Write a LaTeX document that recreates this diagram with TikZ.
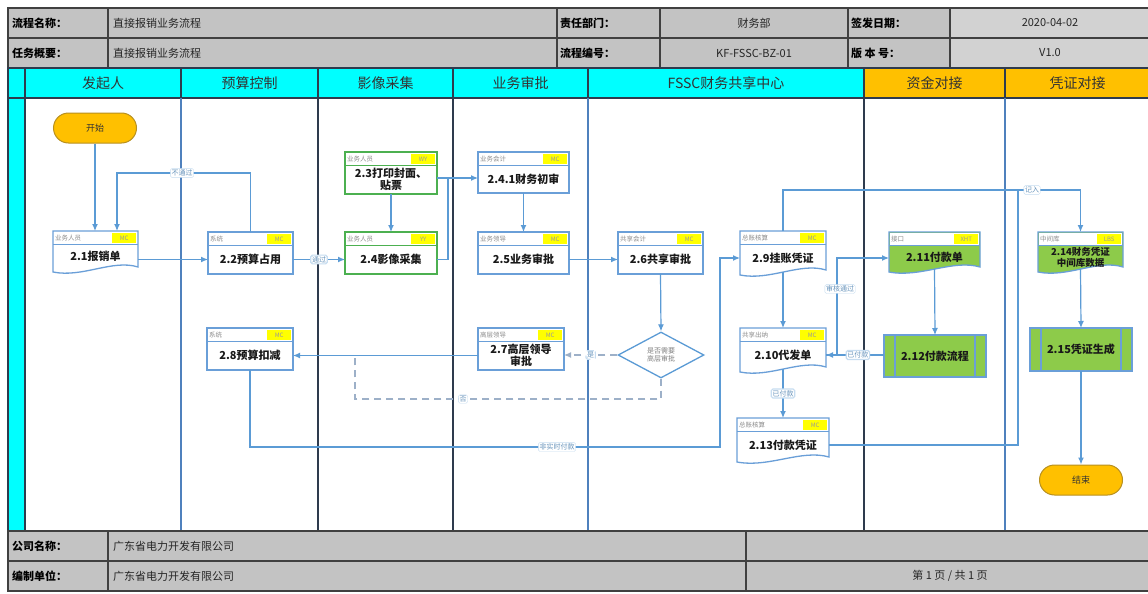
\documentclass[tikz,border=0pt]{standalone}
\usepackage{fontspec}
\setmainfont{Noto Sans CJK SC}
\usetikzlibrary{arrows.meta,shapes.geometric,calc,fit}
\definecolor{lnblue}{HTML}{5B9BD5}
\definecolor{bxblue}{HTML}{6A9FD8}
\definecolor{bxgreen}{HTML}{4CB050}
\definecolor{gfill}{HTML}{8DCB4A}
\definecolor{orng}{HTML}{FFC000}
\definecolor{ordark}{HTML}{B89020}
\definecolor{cyanh}{HTML}{00FFFF}
\definecolor{tgray}{HTML}{C3C3C3}
\definecolor{tgray2}{HTML}{D2D2D2}
\definecolor{tline}{HTML}{404040}
\definecolor{sepdark}{HTML}{2E3B4E}
\definecolor{sepblue}{HTML}{4F81BD}
\definecolor{tagy}{HTML}{FFFF00}
\definecolor{dashc}{HTML}{9DB0C8}
\newcommand\hdr[4]{%
  \fill[white] ($(#1.north west)+(0.7,0.7)$) rectangle ($(#1.north east)+(-0.7,13)$);
  \draw[#4,line width=1pt] ($(#1.north west)+(0,13)$) -- ($(#1.north east)+(0,13)$);
  \fill[tagy] ($(#1.north east)+(-26,1.6)$) rectangle ($(#1.north east)+(-1.6,11.6)$);
  \node[rolet,anchor=west] (#1-r) at ($(#1.north west)+(2,6.8)$) {#2};
  \node[tagt] (#1-g) at ($(#1.north east)+(-13.8,6.8)$) {#3};
}
\newcommand\procr[9]{%
  \node[fit={(#2,#3) (#4,#5)},inner sep=0pt,outer sep=0pt,draw=#9,line width=1.3pt,fill=white] (#1) {};
  \hdr{#1}{#6}{#7}{#9}
  \node[maint] (#1-t) at ($(#1.center)+(0,6.5)$) {#8};
}
\newcommand\docr[9]{%
  \node[fit={(#2,#3) (#4,#5)},inner sep=0pt,outer sep=0pt] (#1) {};
  \draw[draw=bxblue,line width=1.3pt,fill=#9] (#2,#3) -- (#4,#3) -- (#4,#5-5)
     .. controls ({#4-0.3*(#4-#2)},#5-13) and ({#2+0.35*(#4-#2)},#5+6) .. (#2,#5) -- cycle;
  \hdr{#1}{#6}{#7}{bxblue}
  \node[maint] (#1-t) at ($(#1.center)+(0,5)$) {#8};
}
\newcommand\ppr[6]{%
  \node[fit={(#2,#3) (#4,#5)},inner sep=0pt,outer sep=0pt,draw=bxblue,line width=1.3pt,fill=gfill] (#1) {};
  \draw[bxblue,line width=1.3pt] (#2+11,#3) -- (#2+11,#5) (#4-11,#3) -- (#4-11,#5);
  \node[maint] (#1-t) at (#1.center) {#6};
}
\begin{document}
\begin{tikzpicture}[x=1pt,y=-1pt,
  cell/.style={draw=tline,line width=1.3pt,fill=tgray,inner sep=0pt,outer sep=0pt},
  cell2/.style={cell,fill=tgray2},
  tlab/.style={font=\fontsize{11}{13}\selectfont\bfseries,text=black,inner sep=0pt},
  tval/.style={font=\fontsize{11}{13}\selectfont,text=black!85,inner sep=0pt},
  lanehd/.style={draw=sepdark,line width=1.2pt,fill=cyanh,inner sep=0pt,outer sep=0pt},
  lanet/.style={font=\fontsize{14}{16}\selectfont,text=black!80,inner sep=0pt},
  rolet/.style={font=\fontsize{6.5}{7}\selectfont,text=gray!90,inner sep=0pt},
  tagt/.style={font=\fontsize{6}{7}\selectfont,text=gray!80,inner sep=0pt},
  maint/.style={font=\fontsize{11}{12.5}\selectfont\bfseries,align=center,inner sep=0pt,text=black!90},
  term/.style={rounded corners=15pt,minimum width=83,minimum height=30,fill=orng,draw=ordark,line width=1pt,font=\fontsize{9}{10}\selectfont,text=black!80},
  conn/.style={draw=lnblue,line width=1.2pt,-{Latex[length=7pt,width=6pt]}},
  cline/.style={draw=lnblue,line width=1.2pt},
  dline/.style={draw=dashc,line width=1.2pt,dash pattern=on 7pt off 5pt},
  clab/.style={fill=white,draw=lnblue!35,rounded corners=1.5pt,inner sep=1.2pt,text=lnblue!70!gray,font=\fontsize{7}{8}\selectfont}
]
\useasboundingbox (0,0) rectangle (1148,594);
\fill[white] (0,0) rectangle (1148,594);
% ---------- header table ----------
\node[cell,fit={(8,8) (108,38)}] (h11) {};
\node[tlab,anchor=west] (h11t) at ($(h11.west)+(4,0)$) {流程名称：};
\node[cell,fit={(108,8) (557,38)}] (h12) {};
\node[tval,anchor=west] (h12t) at ($(h12.west)+(5,0)$) {直接报销业务流程};
\node[cell,fit={(557,8) (660,38)}] (h13) {};
\node[tlab,anchor=west] (h13t) at ($(h13.west)+(3,0)$) {责任部门：};
\node[cell,fit={(660,8) (848,38)}] (h14) {};
\node[tval] (h14t) at (h14.center) {财务部};
\node[cell,fit={(848,8) (950,38)}] (h15) {};
\node[tlab,anchor=west] (h15t) at ($(h15.west)+(3,0)$) {签发日期：};
\node[cell2,fit={(950,8) (1150,38)}] (h16) {};
\node[tval] (h16t) at (h16.center) {2020-04-02};
\node[cell,fit={(8,38) (108,68)}] (h21) {};
\node[tlab,anchor=west] (h21t) at ($(h21.west)+(4,0)$) {任务概要：};
\node[cell,fit={(108,38) (557,68)}] (h22) {};
\node[tval,anchor=west] (h22t) at ($(h22.west)+(5,0)$) {直接报销业务流程};
\node[cell,fit={(557,38) (660,68)}] (h23) {};
\node[tlab,anchor=west] (h23t) at ($(h23.west)+(3,0)$) {流程编号：};
\node[cell,fit={(660,38) (848,68)}] (h24) {};
\node[tval] (h24t) at (h24.center) {KF-FSSC-BZ-01};
\node[cell,fit={(848,38) (950,68)}] (h25) {};
\node[tlab,anchor=west] (h25t) at ($(h25.west)+(3,0)$) {版 本 号：};
\node[cell2,fit={(950,38) (1150,68)}] (h26) {};
\node[tval] (h26t) at (h26.center) {V1.0};
% ---------- lanes ----------
\fill[cyanh] (8,68) rectangle (25,530);
\draw[sepdark,line width=1.2pt] (8,68) -- (8,530) (25,68) -- (25,530);
\node[lanehd,fit={(8,68) (25,98)}] (lh0) {};
\node[lanehd,fit={(25,68) (181,98)}] (lh1) {};
\node[lanet] (lh1t) at (lh1.center) {发起人};
\node[lanehd,fit={(181,68) (318,98)}] (lh2) {};
\node[lanet] (lh2t) at (lh2.center) {预算控制};
\node[lanehd,fit={(318,68) (453,98)}] (lh3) {};
\node[lanet] (lh3t) at (lh3.center) {影像采集};
\node[lanehd,fit={(453,68) (588,98)}] (lh4) {};
\node[lanet] (lh4t) at (lh4.center) {业务审批};
\node[lanehd,fit={(588,68) (864,98)}] (lh5) {};
\node[lanet] (lh5t) at (lh5.center) {FSSC财务共享中心};
\node[lanehd,fill=orng,fit={(864,68) (1005,98)}] (lh6) {};
\node[lanet] (lh6t) at (lh6.center) {资金对接};
\node[lanehd,fill=orng,fit={(1005,68) (1150,98)}] (lh7) {};
\node[lanet] (lh7t) at (lh7.center) {凭证对接};
\draw[sepblue,line width=1.2pt] (181,98) -- (181,530) (588,98) -- (588,530) (1005,98) -- (1005,530);
\draw[sepdark,line width=1.4pt] (318,98) -- (318,530) (453,98) -- (453,530) (864,98) -- (864,530);
% ---------- footer ----------
\node[cell,fit={(8,531) (108,561)}] (f11) {};
\node[tlab,anchor=west] (f11t) at ($(f11.west)+(4,0)$) {公司名称：};
\node[cell,fit={(108,531) (746,561)}] (f12) {};
\node[tval,anchor=west] (f12t) at ($(f12.west)+(5,0)$) {广东省电力开发有限公司};
\node[cell,fit={(746,531) (1150,561)}] (f13) {};
\node[cell,fit={(8,561) (108,591)}] (f21) {};
\node[tlab,anchor=west] (f21t) at ($(f21.west)+(4,0)$) {编制单位：};
\node[cell,fit={(108,561) (746,591)}] (f22) {};
\node[tval,anchor=west] (f22t) at ($(f22.west)+(5,0)$) {广东省电力开发有限公司};
\node[cell,fit={(746,561) (1150,591)}] (f23) {};
\node[tval] (f23t) at (950,576) {第 1 页 / 共 1 页};
% ---------- nodes ----------
\node[term] (st) at (95,128) {开始};
\node[term] (en) at (1081,480) {结束};
\docr{n21}{53}{231}{138}{272}{业务人员}{MC}{2.1报销单}{white}
\procr{n22}{208}{232}{293}{274}{系统}{MC}{2.2预算占用}{bxblue}
\procr{n23}{345}{152}{437}{194}{业务人员}{WY}{2.3打印封面、\\贴票}{bxgreen}
\procr{n24}{345}{232}{437}{274}{业务人员}{YY}{2.4影像采集}{bxgreen}
\procr{n241}{478}{152}{569}{193}{业务会计}{MC}{2.4.1财务初审}{bxblue}
\procr{n25}{478}{232}{569}{274}{业务领导}{MC}{2.5业务审批}{bxblue}
\procr{n26}{618}{232}{703}{274}{共享会计}{MC}{2.6共享审批}{bxblue}
\procr{n27}{478}{328}{564}{370}{高层领导}{MC}{2.7高层领导\\审批}{bxblue}
\procr{n28}{207}{328}{293}{370}{系统}{MC}{2.8预算扣减}{bxblue}
\docr{n29}{740}{231}{826}{275}{总账核算}{MC}{2.9挂账凭证}{white}
\docr{n210}{740}{328}{826}{372}{共享出纳}{MC}{2.10代发单}{white}
\docr{n213}{737}{418}{829}{462}{总账核算}{MC}{2.13付款凭证}{white}
\docr{n211}{889}{232}{980}{272}{接口}{XHT}{2.11付款单}{gfill}
\node[fit={(1038,232) (1123,272)},inner sep=0pt,outer sep=0pt] (n214) {};
\draw[draw=bxblue,line width=1.3pt,fill=gfill] (1038,232) -- (1123,232) -- (1123,267)
   .. controls (1097.5,259) and (1067.75,278) .. (1038,272) -- cycle;
\hdr{n214}{中间库}{LBS}{bxblue}
\node[maint,font=\fontsize{9.5}{10.5}\selectfont\bfseries] (n214-t) at (1080.5,257.5) {2.14财务凭证\\中间库数据};
\ppr{n212}{884}{335}{986}{377}{2.12付款流程}
\ppr{n215}{1030}{328}{1132}{371}{2.15凭证生成}
\node[diamond,draw=lnblue,line width=1.3pt,fill=white,aspect=1.9,minimum width=86,minimum height=46,inner sep=0pt,
  font=\fontsize{7}{8}\selectfont,text=gray,align=center] (dia) at (661,355) {是否需要\\高层审批};
% ---------- connectors ----------
\draw[conn] (st.south) -- (st.south |- n21.north);
\coordinate (k1) at (117,173);
\draw[conn] (n22.north) |- (k1) -- (k1 |- n21.north);
\node[clab] (l1) at (182,173) {不通过};
\draw[conn] (n21.east |- n22-t) -- (n22.west |- n22-t);
\draw[conn] (n22.east |- n22-t) -- node[clab] (l2) {通过} (n24.west |- n22-t);
\draw[conn] (n23.south) -- (n24.north);
\coordinate (k2) at (448,178);
\draw[conn] (n24.east |- n24-t) -| (k2) -- (n241.west |- k2);
\draw[cline] (n23.east |- k2) -- (k2);
\draw[conn] (n241.south) -- (n241.south |- n25.north);
\draw[conn] (n25.east |- n25-t) -- (n26.west |- n25-t);
\draw[conn] (n26.south) -- (dia.north);
\draw[conn,dline] (dia.west) -- node[clab] (l3) {是} (n27.east |- dia.west);
\coordinate (k3) at (355,355);
\coordinate (k4) at (661,399);
\draw[dline] (dia.south) -- (k4) -| (k3);
\node[clab] (l4) at (463,399) {否};
\draw[conn] (n27.west |- n27-t) -- (n28.east |- n27-t);
\coordinate (k5) at (720,447);
\draw[conn] (n28.south) |- (k5) -- (k5 |- n29-t) -- (n29.west |- n29-t);
\node[clab] (l5) at (557,447) {非实时付款};
\draw[conn] ($(n29.south)+(0,-3)$) -- (n29.south |- n210.north);
\coordinate (k7) at (1018,190);
\draw[conn] (n29.north) |- (n214.north |- k7) -- (n214.north);
\node[clab] (l6) at (1032,190) {记入};
\coordinate (k6) at (837,258);
\draw[conn] (n210.east |- n210-t) -| (k6) -- (n211.west |- k6);
\node[clab] (l7) at (840,289) {审核通过};
\draw[conn] (n212.west |- n210-t) -- node[clab,pos=0.45] (l8) {已付款} (n210.east |- n210-t);
\draw[conn] ($(n211.south)+(0,-3)$) -- (n212.north);
\draw[conn] ($(n210.south)+(0,-3)$) -- node[clab] (l9) {已付款} (n213.north);
\draw[cline] (n213.east |- n213-t) -| (k7);
\draw[conn] ($(n214.south)+(0,-3)$) -- (n215.north);
\draw[conn] (n215.south) -- (en.north);
\end{tikzpicture}
\end{document}
